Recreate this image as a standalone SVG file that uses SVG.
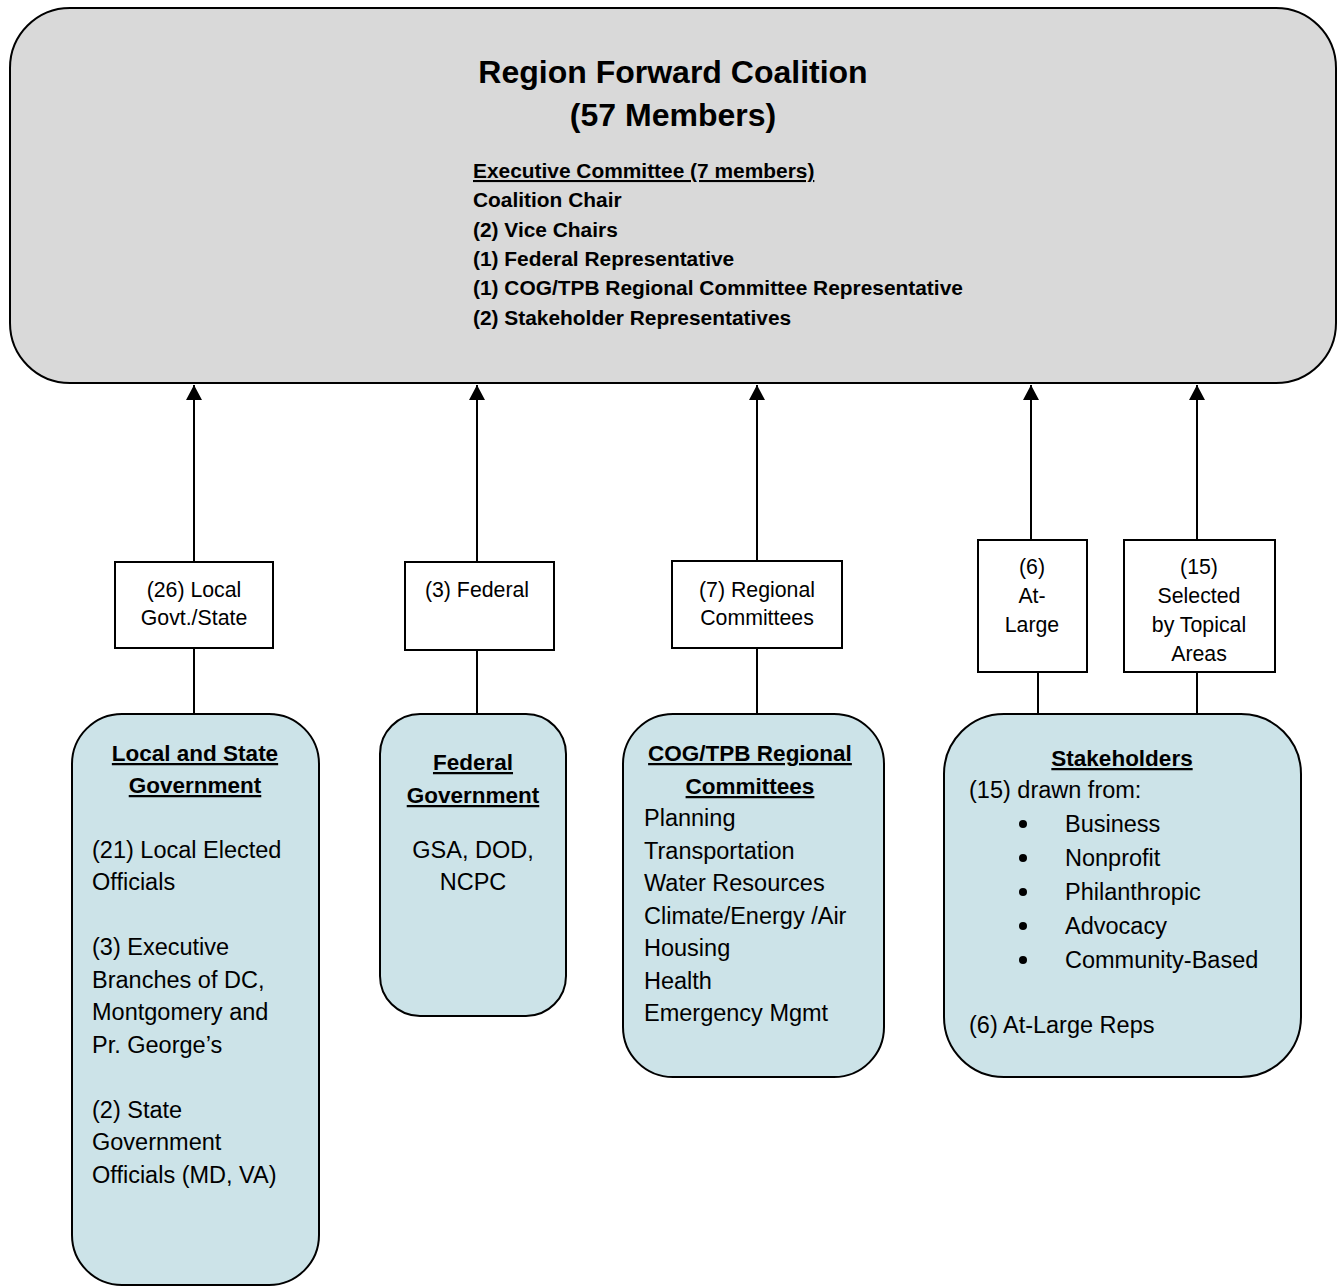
<svg xmlns="http://www.w3.org/2000/svg" width="1340" height="1287" viewBox="0 0 1340 1287">
<defs>
<style>
.main{fill:#d9d9d9;stroke:#000;stroke-width:2}
.grp{fill:#cce3e8;stroke:#000;stroke-width:2}
.lbl{fill:#fff;stroke:#000;stroke-width:2}
.con{stroke:#000;stroke-width:2;fill:none}
text{font-family:"Liberation Sans",Arial,sans-serif;fill:#000}
.t1{font-size:32px;font-weight:bold;text-anchor:middle}
.ex{font-size:20.9px;font-weight:bold}
.lb{font-size:21.3px;text-anchor:middle}
.hd{font-size:22.5px;font-weight:bold;text-anchor:middle;text-decoration:underline}
.bd{font-size:23.5px}
.bc{font-size:23.5px;text-anchor:middle}
</style>
<marker id="ah" viewBox="0 0 15 16" refX="15" refY="8" markerWidth="15" markerHeight="16" markerUnits="userSpaceOnUse" orient="auto">
<path d="M0,0 L15,8 L0,16 Z" fill="#000"/>
</marker>
</defs>

<g id="coalition">
<rect class="main" x="10" y="8" width="1326" height="375" rx="60" ry="60"/>
<text class="t1" x="673" y="83">Region Forward Coalition</text>
<text class="t1" x="673" y="126">(57 Members)</text>
<text class="ex" x="473" y="178" text-decoration="underline">Executive Committee (7 members)</text>
<text class="ex" x="473" y="207">Coalition Chair</text>
<text class="ex" x="473" y="237">(2) Vice Chairs</text>
<text class="ex" x="473" y="266">(1) Federal Representative</text>
<text class="ex" x="473" y="295">(1) COG/TPB Regional Committee Representative</text>
<text class="ex" x="473" y="325">(2) Stakeholder Representatives</text>
</g>

<g id="connectors">
<line class="con" x1="194" y1="562" x2="194" y2="385" marker-end="url(#ah)"/>
<line class="con" x1="194" y1="648" x2="194" y2="714"/>
<line class="con" x1="477" y1="562" x2="477" y2="385" marker-end="url(#ah)"/>
<line class="con" x1="477" y1="650" x2="477" y2="714"/>
<line class="con" x1="757" y1="561" x2="757" y2="385" marker-end="url(#ah)"/>
<line class="con" x1="757" y1="648" x2="757" y2="714"/>
<line class="con" x1="1031" y1="540" x2="1031" y2="385" marker-end="url(#ah)"/>
<line class="con" x1="1038" y1="672" x2="1038" y2="714"/>
<line class="con" x1="1197" y1="540" x2="1197" y2="385" marker-end="url(#ah)"/>
<line class="con" x1="1197" y1="672" x2="1197" y2="714"/>
</g>

<g id="label-local">
<rect class="lbl" x="115" y="562" width="158" height="86"/>
<text class="lb" x="194" y="597">(26) Local</text>
<text class="lb" x="194" y="625">Govt./State</text>
</g>
<g id="label-federal">
<rect class="lbl" x="405" y="562" width="149" height="88"/>
<text class="lb" x="477" y="597">(3) Federal</text>
</g>
<g id="label-regional">
<rect class="lbl" x="672" y="561" width="170" height="87"/>
<text class="lb" x="757" y="597">(7) Regional</text>
<text class="lb" x="757" y="625">Committees</text>
</g>
<g id="label-atlarge">
<rect class="lbl" x="978" y="540" width="109" height="132"/>
<text class="lb" x="1032" y="574">(6)</text>
<text class="lb" x="1032" y="603">At-</text>
<text class="lb" x="1032" y="632">Large</text>
</g>
<g id="label-topical">
<rect class="lbl" x="1124" y="540" width="151" height="132"/>
<text class="lb" x="1199" y="574">(15)</text>
<text class="lb" x="1199" y="603">Selected</text>
<text class="lb" x="1199" y="632">by Topical</text>
<text class="lb" x="1199" y="661">Areas</text>
</g>

<g id="local-state">
<rect class="grp" x="72" y="714" width="247" height="571" rx="50" ry="50"/>
<text class="hd" x="195" y="761">Local and State</text>
<text class="hd" x="195" y="793">Government</text>
<text class="bd" x="92" y="858">(21) Local Elected</text>
<text class="bd" x="92" y="890">Officials</text>
<text class="bd" x="92" y="955">(3) Executive</text>
<text class="bd" x="92" y="988">Branches of DC,</text>
<text class="bd" x="92" y="1020">Montgomery and</text>
<text class="bd" x="92" y="1053">Pr. George’s</text>
<text class="bd" x="92" y="1118">(2) State</text>
<text class="bd" x="92" y="1150">Government</text>
<text class="bd" x="92" y="1183">Officials (MD, VA)</text>
</g>

<g id="federal">
<rect class="grp" x="380" y="714" width="186" height="302" rx="40" ry="40"/>
<text class="hd" x="473" y="770">Federal</text>
<text class="hd" x="473" y="803">Government</text>
<text class="bc" x="473" y="858">GSA, DOD,</text>
<text class="bc" x="473" y="890">NCPC</text>
</g>

<g id="cog-tpb">
<rect class="grp" x="623" y="714" width="261" height="363" rx="50" ry="50"/>
<text class="hd" x="750" y="761">COG/TPB Regional</text>
<text class="hd" x="750" y="794">Committees</text>
<text class="bd" x="644" y="826">Planning</text>
<text class="bd" x="644" y="859">Transportation</text>
<text class="bd" x="644" y="891">Water Resources</text>
<text class="bd" x="644" y="924">Climate/Energy /Air</text>
<text class="bd" x="644" y="956">Housing</text>
<text class="bd" x="644" y="989">Health</text>
<text class="bd" x="644" y="1021">Emergency Mgmt</text>
</g>

<g id="stakeholders">
<rect class="grp" x="944" y="714" width="357" height="363" rx="60" ry="60"/>
<text class="hd" x="1122" y="766">Stakeholders</text>
<text class="bd" x="969" y="798">(15) drawn from:</text>
<circle cx="1023" cy="824" r="4"/>
<circle cx="1023" cy="858" r="4"/>
<circle cx="1023" cy="892" r="4"/>
<circle cx="1023" cy="926" r="4"/>
<circle cx="1023" cy="960" r="4"/>
<text class="bd" x="1065" y="832">Business</text>
<text class="bd" x="1065" y="866">Nonprofit</text>
<text class="bd" x="1065" y="900">Philanthropic</text>
<text class="bd" x="1065" y="934">Advocacy</text>
<text class="bd" x="1065" y="968">Community-Based</text>
<text class="bd" x="969" y="1033">(6) At-Large Reps</text>
</g>
</svg>
